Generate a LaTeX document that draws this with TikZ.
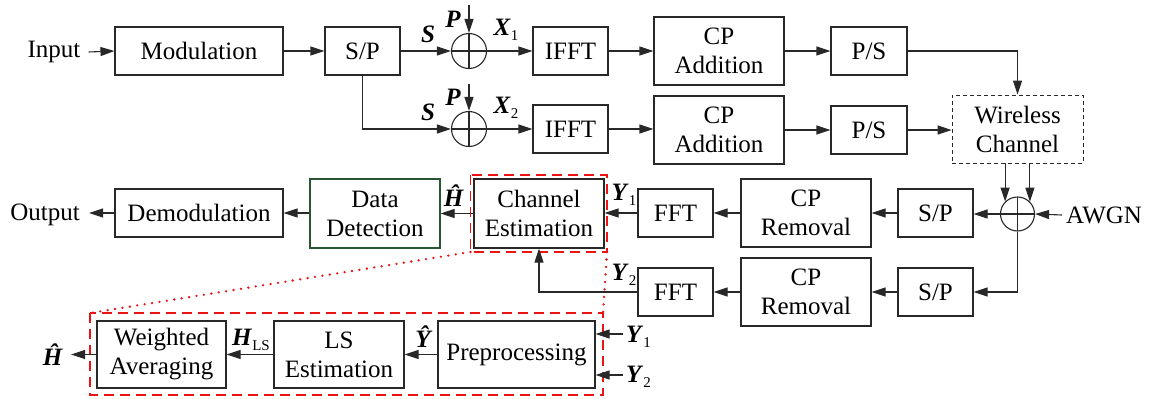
\documentclass[tikz,border=0pt]{standalone}
\usepackage{fontspec}
\setmainfont{Liberation Serif}
\usetikzlibrary{arrows.meta,calc}
\newcommand\mysub[1]{\raisebox{-0.45ex}{\fontsize{15}{15}\selectfont #1}}
\newcommand\bv[1]{\textbf{\textit{#1}}}
\definecolor{ln}{RGB}{40,40,40}
\definecolor{dgreen}{RGB}{40,85,50}
\definecolor{rd}{RGB}{235,20,20}
\begin{document}
\begin{tikzpicture}[x=1pt,y=-1pt,
  every node/.style={font=\fontsize{25}{29}\selectfont, inner sep=0pt},
  blk/.style={draw=ln, line width=1.1pt, rectangle, align=center},
  sumnode/.style={draw=ln, line width=1.1pt, circle, minimum size=35pt,
    path picture={\draw[ln, line width=1.1pt] (path picture bounding box.north) -- (path picture bounding box.south)
      (path picture bounding box.west) -- (path picture bounding box.east);}},
  arr/.style={draw=ln, line width=1.1pt, -{Triangle[length=14pt,width=9pt]}},
  reddash/.style={draw=rd, line width=1.6pt, dash pattern=on 10pt off 6pt},
  reddot/.style={draw=rd, line width=2.6pt, line cap=round, dash pattern=on 0pt off 7.5pt}
]
\useasboundingbox (0,0) rectangle (1160,399);

% top row
\node (in) at (54,52) {Input};
\node[blk, minimum width=168pt, minimum height=48pt] (mod) at (199,51) {Modulation};
\node[blk, minimum width=75pt, minimum height=48pt] (sp1) at (362.5,51) {S/P};
\node[sumnode] (add1) at (469,51) {};
\node[blk, minimum width=75pt, minimum height=48pt] (ifft1) at (570.5,51) {IFFT};
\node[blk, minimum width=130pt, minimum height=68pt] (cpa1) at (719,51) {CP\\Addition};
\node[blk, minimum width=76pt, minimum height=48pt] (ps1) at (869,51) {P/S};

% second row
\node[sumnode] (add2) at (469,129) {};
\node[blk, minimum width=75pt, minimum height=48pt] (ifft2) at (570.5,129) {IFFT};
\node[blk, minimum width=130pt, minimum height=68pt] (cpa2) at (719,130) {CP\\Addition};
\node[blk, minimum width=76pt, minimum height=48pt] (ps2) at (869,130) {P/S};
\node[blk, dash pattern=on 4pt off 3pt, line width=0.9pt, minimum width=131pt, minimum height=68pt] (wc) at (1017.5,129) {Wireless\\Channel};

% labels top
\node (s1) at (428,34) {\bv{S}};
\node (p1) at (453,19) {\bv{P}};
\node (x1) at (506,30) {\bv{X}\mysub{1}};
\node (s2) at (428,112) {\bv{S}};
\node (p2) at (453,97) {\bv{P}};
\node (x2) at (506,108) {\bv{X}\mysub{2}};
\coordinate (p1top) at (469,5);
\coordinate (p2top) at (469,84);

% receiver
\node[sumnode, minimum size=34pt] (add3) at (1017.5,214) {};
\node[anchor=west] (awgn) at (1066,215) {AWGN};
\node[blk, minimum width=75pt, minimum height=48pt] (sp3) at (935.5,213) {S/P};
\node[blk, minimum width=75pt, minimum height=48pt] (sp4) at (935.5,292) {S/P};
\node[blk, minimum width=130pt, minimum height=68pt] (cpr1) at (806,213) {CP\\Removal};
\node[blk, minimum width=130pt, minimum height=68pt] (cpr2) at (806,292) {CP\\Removal};
\node[blk, minimum width=75pt, minimum height=48pt] (fft1) at (675.5,213) {FFT};
\node[blk, minimum width=75pt, minimum height=48pt] (fft2) at (675.5,292) {FFT};
\node[blk, minimum width=130pt, minimum height=69pt] (ce) at (539,213.5) {Channel\\Estimation};
\node[blk, draw=dgreen, minimum width=130pt, minimum height=69pt] (dd) at (375,213.5) {Data\\Detection};
\node[blk, minimum width=168pt, minimum height=48pt] (demod) at (199,213) {Demodulation};
\node (out) at (45,215) {Output};
\coordinate (outtip) at (89,213);
\node (y1) at (624,195) {\bv{Y}\mysub{1}};
\node (y2) at (624,275) {\bv{Y}\mysub{2}};
\node (hh1) at (454,196) {\bv{\^H}};

% detail
\node[blk, minimum width=129pt, minimum height=67pt] (wa) at (161.5,354.5) {Weighted\\Averaging};
\node[blk, minimum width=130pt, minimum height=67pt] (ls) at (339,354.5) {LS\\Estimation};
\node[blk, minimum width=157pt, minimum height=67pt] (prep) at (516.5,354.5) {Preprocessing};
\node (hh2) at (53,355) {\bv{\^H}};
\coordinate (hhtip) at (71,354.5);
\node (hls) at (251,340) {\bv{H}\mysub{LS}};
\node (yh) at (424,337) {\bv{\^Y}};
\node[anchor=west] (py1) at (626,337) {\bv{Y}\mysub{1}};
\node[anchor=west] (py2) at (626,377) {\bv{Y}\mysub{2}};
\coordinate (t1) at (623,334);
\coordinate (t2) at (623,375);

% red frames
\coordinate (cdA) at (470.5,175);
\coordinate (cdB) at (607,252);
\coordinate (ldA) at (90,313);
\coordinate (ldB) at (603,395);
\draw[reddash] (cdA) rectangle (cdB);
\draw[reddash] (ldA) rectangle (ldB);
\draw[reddot] (cdA |- cdB) -- (ldA);
\draw[reddot] (cdB) -- (ldB |- ldA);

% connectors top
\draw[arr] ($(in.east)+(8,0)$) -- (mod.west);
\draw[arr] (mod) -- (sp1);
\draw[arr] (sp1) -- (add1);
\draw[arr] (p1top) -- (add1.north);
\draw[arr] (add1) -- (ifft1);
\draw[arr] (ifft1) -- (cpa1);
\draw[arr] (cpa1) -- (ps1);
\draw[arr] (ps1.east) -| (wc.north);
\draw[arr] (sp1.south) |- (add2.west);
\draw[arr] (p2top) -- (add2.north);
\draw[arr] (add2) -- (ifft2);
\draw[arr] (ifft2.east) -- (cpa2.west |- ifft2.east);
\draw[arr] (cpa2) -- (ps2);
\draw[arr] (ps2.east) -- (wc.west |- ps2.east);

% connectors receiver
\draw[arr] (add3.north west |- wc.south) -- (add3.north west);
\draw[arr] (add3.north east |- wc.south) -- (add3.north east);
\draw[arr] ($(awgn.west)+(-4,0)$) -- (add3.east);
\draw[arr] (add3.west) -- (sp3.east |- add3.west);
\draw[arr] (add3.south) |- (sp4.east);
\draw[arr] (sp3) -- (cpr1);
\draw[arr] (cpr1) -- (fft1);
\draw[arr] (fft1) -- (ce.east |- fft1.west);
\draw[arr] (sp4) -- (cpr2);
\draw[arr] (cpr2) -- (fft2);
\draw[arr] (fft2.west) -| (ce.south);
\draw[arr] (ce.west |- dd.east) -- (dd.east);
\draw[arr] (dd.west |- demod.east) -- (demod.east);
\draw[arr] (demod.west) -- (outtip);

% detail connectors
\draw[arr] (prep.west) -- (ls.east);
\draw[arr] (ls.west) -- (wa.east);
\draw[arr] (wa.west) -- (hhtip);
\draw[arr] (t1) -- (prep.east |- t1);
\draw[arr] (t2) -- (prep.east |- t2);
\end{tikzpicture}
\end{document}
